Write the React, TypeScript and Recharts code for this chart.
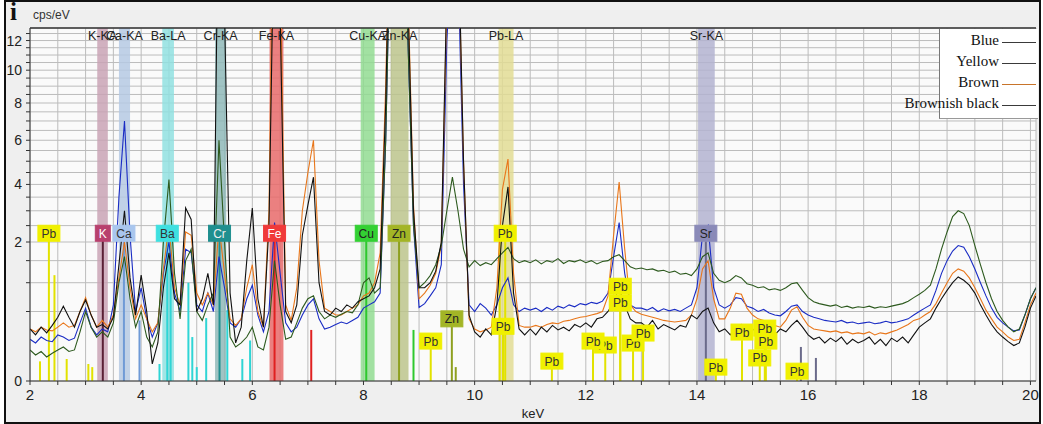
import React from 'react';
import { ComposedChart, Line, Scatter, XAxis, YAxis, CartesianGrid, ReferenceArea, ReferenceLine } from 'recharts';

// Energy grid (keV)
const keV = [
  2.0, 2.1, 2.2, 2.3, 2.4, 2.5, 2.6, 2.7, 2.8, 2.9,
  3.0, 3.1, 3.2, 3.3, 3.4, 3.5, 3.6, 3.7, 3.8, 3.9,
  4.0, 4.1, 4.2, 4.3, 4.4, 4.5, 4.6, 4.7, 4.8, 4.9,
  5.0, 5.1, 5.2, 5.3, 5.4, 5.5, 5.6, 5.7, 5.8, 5.9,
  6.0, 6.1, 6.2, 6.3, 6.4, 6.5, 6.6, 6.7, 6.8, 6.9,
  7.0, 7.1, 7.2, 7.3, 7.4, 7.5, 7.6, 7.7, 7.8, 7.9,
  8.0, 8.1, 8.2, 8.3, 8.4, 8.5, 8.6, 8.7, 8.8, 8.9,
  9.0, 9.1, 9.2, 9.3, 9.4, 9.5, 9.6, 9.7, 9.8, 9.9,
  10.0, 10.1, 10.2, 10.3, 10.4, 10.5, 10.6, 10.7, 10.8, 10.9,
  11.0, 11.1, 11.2, 11.3, 11.4, 11.5, 11.6, 11.7, 11.8, 11.9,
  12.0, 12.1, 12.2, 12.3, 12.4, 12.5, 12.6, 12.7, 12.8, 12.9,
  13.0, 13.1, 13.2, 13.3, 13.4, 13.5, 13.6, 13.7, 13.8, 13.9,
  14.0, 14.1, 14.2, 14.3, 14.4, 14.5, 14.6, 14.7, 14.8, 14.9,
  15.0, 15.1, 15.2, 15.3, 15.4, 15.5, 15.6, 15.7, 15.8, 15.9,
  16.0, 16.1, 16.2, 16.3, 16.4, 16.5, 16.6, 16.7, 16.8, 16.9,
  17.0, 17.1, 17.2, 17.3, 17.4, 17.5, 17.6, 17.7, 17.8, 17.9,
  18.0, 18.1, 18.2, 18.3, 18.4, 18.5, 18.6, 18.7, 18.8, 18.9,
  19.0, 19.1, 19.2, 19.3, 19.4, 19.5, 19.6, 19.7, 19.8, 19.9,
  20.0, 20.1,
];

// cps/eV, series "Blue"
const blueSeries = [
  0.18, 0.15, 0.20, 0.17, 0.16, 0.22, 0.20, 0.17, 0.19, 0.35,
  0.55, 0.30, 0.22, 0.28, 0.25, 0.60, 3.50, 7.00, 2.20, 0.50,
  0.90, 0.40, 0.20, 0.35, 1.20, 2.00, 0.80, 0.50, 1.80, 1.70,
  0.60, 0.50, 0.80, 0.50, 1.60, 0.90, 0.35, 0.30, 0.40, 0.70,
  0.95, 0.45, 0.25, 0.50, 2.60, 1.20, 0.35, 0.25, 0.30, 0.45,
  0.60, 0.70, 0.40, 0.28, 0.30, 0.33, 0.36, 0.34, 0.38, 0.42,
  0.55, 0.60, 0.65, 0.80, 6.00, 25.0, 35.0, 30.0, 12.0, 2.50,
  0.56, 0.62, 0.75, 0.90, 1.40, 12.0, 20.0, 18.0, 4.00, 0.60,
  0.50, 0.62, 0.55, 0.45, 0.60, 0.90, 1.10, 0.60, 0.50, 0.55,
  0.52, 0.55, 0.50, 0.56, 0.52, 0.58, 0.55, 0.60, 0.57, 0.62,
  0.60, 0.64, 0.62, 0.66, 0.80, 1.60, 2.60, 1.20, 0.60, 0.55,
  0.55, 0.52, 0.56, 0.50, 0.54, 0.51, 0.53, 0.50, 0.55, 0.60,
  0.90, 2.20, 2.50, 0.90, 0.60, 0.55, 0.60, 0.72, 0.70, 0.58,
  0.55, 0.50, 0.53, 0.48, 0.45, 0.44, 0.50, 0.58, 0.60, 0.50,
  0.45, 0.42, 0.40, 0.38, 0.37, 0.36, 0.38, 0.35, 0.36, 0.34,
  0.35, 0.36, 0.34, 0.35, 0.37, 0.35, 0.36, 0.38, 0.40, 0.45,
  0.50, 0.55, 0.60, 0.85, 1.20, 1.50, 1.75, 1.90, 1.85, 1.60,
  1.30, 1.00, 0.75, 0.55, 0.42, 0.35, 0.30, 0.26, 0.27, 0.45,
  0.70, 0.90,
];

// series "Yellow"
const yellowSeries = [
  0.10, 0.07, 0.09, 0.06, 0.08, 0.10, 0.12, 0.09, 0.10, 0.25,
  0.50, 0.30, 0.20, 0.25, 0.20, 0.35, 1.00, 1.60, 0.70, 0.30,
  0.50, 0.20, 0.12, 0.25, 2.00, 4.20, 1.20, 0.40, 1.50, 1.80,
  0.50, 0.38, 0.60, 0.80, 6.00, 2.00, 0.20, 0.12, 0.15, 0.20,
  0.30, 0.12, 0.10, 0.30, 1.50, 0.60, 0.18, 0.20, 0.35, 0.55,
  0.70, 0.75, 0.50, 0.40, 0.45, 0.42, 0.46, 0.50, 0.48, 0.60,
  1.00, 1.10, 0.80, 0.90, 6.00, 25.0, 35.0, 30.0, 12.0, 2.50,
  0.90, 1.00, 1.15, 1.40, 1.90, 3.00, 4.30, 3.00, 1.80, 1.35,
  1.50, 1.38, 1.45, 1.40, 1.55, 1.70, 1.85, 1.55, 1.45, 1.50,
  1.45, 1.52, 1.42, 1.50, 1.46, 1.55, 1.43, 1.50, 1.47, 1.52,
  1.45, 1.50, 1.42, 1.48, 1.50, 1.60, 1.65, 1.50, 1.35, 1.30,
  1.32, 1.28, 1.30, 1.25, 1.27, 1.22, 1.25, 1.18, 1.20, 1.15,
  1.30, 1.60, 1.70, 1.20, 1.05, 1.00, 1.05, 1.15, 1.10, 0.98,
  0.95, 0.90, 0.92, 0.86, 0.88, 0.85, 0.90, 0.98, 1.00, 0.85,
  0.72, 0.65, 0.62, 0.60, 0.58, 0.60, 0.56, 0.58, 0.55, 0.57,
  0.56, 0.58, 0.55, 0.57, 0.56, 0.58, 0.60, 0.62, 0.66, 0.72,
  0.78, 0.85, 0.95, 1.30, 1.80, 2.30, 2.80, 3.00, 2.90, 2.50,
  1.90, 1.40, 1.00, 0.70, 0.50, 0.38, 0.30, 0.25, 0.28, 0.45,
  0.70, 0.90,
];

// series "Brown"
const brownSeries = [
  0.28, 0.25, 0.30, 0.27, 0.26, 0.30, 0.35, 0.30, 0.32, 0.50,
  0.72, 0.45, 0.30, 0.38, 0.30, 0.45, 1.10, 2.00, 0.90, 0.40,
  0.60, 0.40, 0.25, 0.35, 1.30, 2.50, 0.90, 0.60, 2.30, 2.20,
  0.80, 0.60, 0.80, 0.60, 2.50, 1.20, 0.40, 0.32, 0.40, 0.90,
  1.40, 0.50, 0.30, 3.00, 35.0, 18.0, 0.60, 0.38, 0.90, 3.00,
  4.50, 6.00, 1.50, 0.55, 0.50, 0.45, 0.45, 0.50, 0.55, 0.60,
  0.75, 0.80, 1.00, 1.70, 9.00, 32.0, 42.0, 36.0, 16.0, 3.20,
  0.70, 0.80, 0.95, 1.20, 1.90, 15.0, 24.0, 21.0, 5.00, 0.40,
  0.28, 0.25, 0.27, 0.30, 0.90, 3.80, 5.10, 1.20, 0.32, 0.30,
  0.30, 0.32, 0.30, 0.33, 0.35, 0.34, 0.37, 0.38, 0.40, 0.42,
  0.43, 0.45, 0.47, 0.50, 0.75, 2.20, 4.10, 1.80, 0.60, 0.50,
  0.46, 0.44, 0.42, 0.40, 0.38, 0.37, 0.36, 0.37, 0.38, 0.45,
  0.70, 1.30, 1.50, 0.70, 0.40, 0.40, 0.55, 0.80, 0.78, 0.55,
  0.45, 0.40, 0.38, 0.35, 0.32, 0.30, 0.38, 0.52, 0.57, 0.42,
  0.32, 0.28, 0.27, 0.26, 0.25, 0.26, 0.24, 0.25, 0.23, 0.24,
  0.23, 0.25, 0.22, 0.24, 0.23, 0.25, 0.27, 0.30, 0.33, 0.38,
  0.40, 0.45, 0.50, 0.62, 0.80, 1.00, 1.20, 1.30, 1.25, 1.10,
  0.90, 0.70, 0.52, 0.40, 0.30, 0.25, 0.20, 0.17, 0.18, 0.35,
  0.60, 0.80,
];

// series "Brownish black"
const blackSeries = [
  0.28, 0.22, 0.30, 0.24, 0.32, 0.42, 0.58, 0.42, 0.30, 0.50,
  0.68, 0.45, 0.30, 0.33, 0.28, 0.42, 1.40, 3.00, 1.10, 0.45,
  1.16, 0.50, 0.03, 0.15, 0.90, 1.70, 0.70, 0.60, 3.10, 2.70,
  0.50, 0.70, 1.20, 0.60, 30.0, 14.0, 0.80, 0.15, 0.30, 1.50,
  3.10, 0.70, 0.30, 2.50, 25.0, 14.0, 0.50, 0.35, 0.60, 2.20,
  3.20, 4.30, 1.00, 0.50, 0.45, 0.55, 0.50, 0.60, 0.55, 0.65,
  0.70, 0.75, 0.90, 1.30, 8.00, 30.0, 40.0, 35.0, 15.0, 3.00,
  0.90, 0.90, 1.00, 1.25, 2.00, 16.0, 25.0, 22.0, 5.00, 0.45,
  0.25, 0.20, 0.28, 0.22, 0.60, 2.50, 3.90, 0.80, 0.28, 0.22,
  0.28, 0.22, 0.30, 0.25, 0.32, 0.27, 0.30, 0.26, 0.33, 0.30,
  0.35, 0.30, 0.40, 0.42, 0.50, 0.65, 0.90, 0.60, 0.40, 0.35,
  0.35, 0.30, 0.38, 0.28, 0.33, 0.30, 0.27, 0.32, 0.30, 0.45,
  0.40, 0.50, 0.55, 0.35, 0.25, 0.28, 0.22, 0.30, 0.33, 0.25,
  0.28, 0.24, 0.30, 0.26, 0.22, 0.28, 0.25, 0.32, 0.38, 0.30,
  0.22, 0.18, 0.20, 0.15, 0.19, 0.16, 0.20, 0.14, 0.18, 0.15,
  0.17, 0.20, 0.14, 0.18, 0.13, 0.19, 0.16, 0.20, 0.15, 0.22,
  0.30, 0.35, 0.40, 0.55, 0.70, 0.85, 1.00, 1.12, 1.05, 0.95,
  0.80, 0.60, 0.45, 0.33, 0.25, 0.20, 0.16, 0.13, 0.15, 0.30,
  0.55, 0.75,
];

const xTicks = [2, 2.5, 3, 3.5, 4, 4.5, 5, 5.5, 6, 6.5, 7, 7.5, 8, 8.5, 9, 9.5, 10, 10.5, 11, 11.5, 12, 12.5, 13, 13.5, 14, 14.5, 15, 15.5, 16, 16.5, 17, 17.5, 18, 18.5, 19, 19.5, 20];
const xLabelTicks = [2, 4, 6, 8, 10, 12, 14, 16, 18, 20];
const yTicks = [0, 0.5, 1, 1.5, 2, 2.5, 3, 3.5, 4, 4.5, 5, 5.5, 6, 6.5, 7, 7.5, 8, 8.5, 9, 9.5, 10, 10.5, 11, 11.5, 12, 12.5];
const yLabelTicks = [0, 2, 4, 6, 8, 10, 12];
const yMax = 12.9;

// Element region-of-interest bands
const bandNames = ['K-KA', 'Ca-KA', 'Ba-LA', 'Cr-KA', 'Fe-KA', 'Cu-KA', 'Zn-KA', 'Pb-LA', 'Sr-KA'];
const bandLo = [3.21, 3.60, 4.38, 5.33, 6.31, 7.95, 8.49, 10.43, 14.02];
const bandHi = [3.40, 3.80, 4.59, 5.53, 6.56, 8.20, 8.81, 10.70, 14.32];
const bandColors = ['#c9a3b5', '#b5c9e3', '#90e0e0', '#8fb8b8', '#e86a6a', '#92dc92', '#bcc48c', '#e2dc94', '#b3b3d0'];

// Element marker styles
const elementNames = ['Pb', 'K', 'Ca', 'Ba', 'Cr', 'Fe', 'Cu', 'Zn', 'Sr'];
const elementBox = ['#f0f000', '#b8406e', '#a9c6ee', '#3ee0e0', '#1f8f8f', '#f03a3a', '#33d133', '#a3b526', '#8a8ab8'];
const elementText = ['#333', '#fff', '#333', '#333', '#eee', '#fff', '#222', '#222', '#222'];
const elementLine = ['#e2e200', '#5a2035', '#6f9ad6', '#2fd5d5', '#1f8f8f', '#e02020', '#2ec82e', '#8ea020', '#6a6a8a'];

// Marker labels (element, energy, height in cps/eV)
const labelEl = ['Pb', 'K', 'Ca', 'Ba', 'Cr', 'Fe', 'Cu', 'Zn', 'Pb', 'Sr',
  'Zn', 'Pb', 'Pb', 'Pb', 'Pb', 'Pb', 'Pb', 'Pb', 'Pb', 'Pb', 'Pb', 'Pb', 'Pb', 'Pb', 'Pb', 'Pb'];
const labelKeV = [2.34, 3.31, 3.69, 4.47, 5.41, 6.40, 8.05, 8.64, 10.55, 14.16,
  9.59, 9.21, 10.51, 11.39, 12.35, 12.13, 12.62, 12.62, 12.85, 13.03, 14.34, 14.81, 15.13, 15.24, 15.22, 15.80];
const labelLevel = [2.26, 2.26, 2.26, 2.26, 2.26, 2.26, 2.26, 2.26, 2.26, 2.26,
  0.40, 0.165, 0.31, 0.041, 0.134, 0.165, 0.93, 0.63, 0.149, 0.238, 0.02, 0.248, 0.055, 0.165, 0.29, 0.01];

// Extra emission lines without labels
const lineEl = ['Pb', 'Pb', 'Pb', 'Pb', 'Pb', 'Ca', 'Ba', 'Ba', 'Ba', 'Ba', 'Ba', 'Ba', 'Ba', 'Ba', 'Ba', 'Fe', 'Cu', 'Zn', 'Pb', 'Sr', 'Sr'];
const lineKeV = [2.18, 2.44, 2.66, 3.05, 3.12, 3.97, 4.33, 4.53, 4.85, 4.92, 5.00, 5.17, 5.55, 5.82, 5.96, 7.06, 8.90, 9.66, 10.45, 15.87, 16.14];
const lineTop = [0.04, 1.16, 0.05, 0.03, 0.02, 0.38, 0.03, 2.26, 1.0, 0.2, 0.02, 0.41, 0.52, 0.05, 0.17, 0.27, 0.27, 0.02, 2.26, 0.12, 0.055];

const legendNames = ['Blue', 'Yellow', 'Brown', 'Brownish black'];
const legendColors = ['#3a3a3a', '#3a3a3a', '#c8742a', '#3a3a3a'];

const seriesKeys = ['blue', 'brown', 'yellow', 'black'];
const seriesColors = ['#1a2cc4', '#e8761a', '#2d5a1e', '#111111'];

const chartData = keV.map((k, i) => ({
  keV: k,
  blue: blueSeries[i],
  yellow: yellowSeries[i],
  brown: brownSeries[i],
  black: blackSeries[i],
}));

const labelData = labelKeV.map((k, i) => ({ keV: k, level: labelLevel[i], el: labelEl[i] }));

const elIndex = (el: string) => elementNames.indexOf(el);

const XTick = (props: any) => {
  const { x, y, payload } = props;
  if (!xLabelTicks.includes(payload.value)) return <g />;
  return (
    <text x={x} y={y + 13} textAnchor="middle" fontSize={15} fill="#222">{payload.value}</text>
  );
};

const YTick = (props: any) => {
  const { x, y, payload } = props;
  if (!yLabelTicks.includes(payload.value)) return <g />;
  return (
    <text x={x - 2} y={y + 5} textAnchor="end" fontSize={14} fill="#222">{payload.value}</text>
  );
};

const LabelShape = (props: any) => {
  const { cx, cy, payload } = props;
  const i = elIndex(payload.el);
  const w = 8 + payload.el.length * 7;
  return (
    <g>
      <rect x={cx - w / 2} y={cy - 8} width={w} height={16} fill={elementBox[i]} stroke={elementBox[i]} />
      <text x={cx} y={cy + 4.5} textAnchor="middle" fontSize={12} fill={elementText[i]}>{payload.el}</text>
    </g>
  );
};

export default function App() {
  return (
    <div style={{ position: 'absolute', left: 0, top: 0, width: 1043, height: 424, background: '#fff', fontFamily: '"Liberation Sans", Arial, sans-serif' }}>
      <div style={{ position: 'absolute', left: 4, top: 0, width: 1037, height: 424, border: '2px solid #111', boxSizing: 'border-box', background: '#efefef' }} />
      <div style={{ position: 'absolute', left: 10, top: -2, fontFamily: '"Liberation Serif", serif', fontWeight: 'bold', fontSize: 25, color: '#111' }}>i</div>
      <div style={{ position: 'absolute', left: 33, top: 8, fontSize: 12, color: '#333' }}>cps/eV</div>
      <div style={{ position: 'absolute', left: 0, top: 0 }}>
        <ComposedChart width={1043} height={424} data={chartData} margin={{ top: 28, right: 7, left: 0, bottom: 0 }}>
          <CartesianGrid stroke="#bcbcbc" fill="#fafafa" />
          <XAxis
            dataKey="keV"
            type="number"
            domain={[2, 20.1]}
            ticks={xTicks}
            interval={0}
            allowDataOverflow
            height={43}
            tickSize={4}
            tickMargin={2}
            tick={XTick}
            stroke="#333"
            label={{ value: 'keV', position: 'insideBottom', offset: 6, fontSize: 13, fill: '#222' }}
          />
          <YAxis
            type="number"
            scale="sqrt"
            domain={[0, yMax]}
            ticks={yTicks}
            interval={0}
            allowDataOverflow
            width={30}
            tickSize={4}
            tickMargin={2}
            tick={YTick}
            stroke="#333"
          />
          {bandNames.map((name, i) => (
            <ReferenceArea
              key={name}
              x1={bandLo[i]}
              x2={bandHi[i]}
              fill={bandColors[i]}
              fillOpacity={0.85}
              stroke="none"
              label={{ value: name, position: 'insideTop', offset: 3, fontSize: 12.5, fill: '#222' }}
            />
          ))}
          <ReferenceLine y={yMax} stroke="#333" strokeWidth={1.5} />
          {lineKeV.map((k, i) => (
            <ReferenceLine
              key={'l' + i}
              segment={[{ x: k, y: 0 }, { x: k, y: lineTop[i] }]}
              stroke={elementLine[elIndex(lineEl[i])]}
              strokeWidth={2}
            />
          ))}
          {labelKeV.map((k, i) => (
            <ReferenceLine
              key={'m' + i}
              segment={[{ x: k, y: 0 }, { x: k, y: labelLevel[i] }]}
              stroke={elementLine[elIndex(labelEl[i])]}
              strokeWidth={2}
            />
          ))}
          {seriesKeys.map((key, i) => (
            <Line
              key={key}
              type="linear"
              dataKey={key}
              stroke={seriesColors[i]}
              strokeWidth={1.1}
              dot={false}
              activeDot={false}
              isAnimationActive={false}
            />
          ))}
          <Scatter data={labelData} dataKey="level" shape={LabelShape} isAnimationActive={false} />
        </ComposedChart>
      </div>
      <div style={{ position: 'absolute', left: 939, top: 29, width: 98, height: 89, background: '#fff', borderLeft: '1px solid #777', borderBottom: '1px solid #999' }} />
      {legendNames.map((name, i) => (
        <React.Fragment key={name}>
          <div style={{ position: 'absolute', right: 1043 - 999, top: 32 + i * 21, fontFamily: '"Liberation Serif", serif', fontSize: 15, color: '#111', whiteSpace: 'nowrap' }}>{name}</div>
          <div style={{ position: 'absolute', left: 1002, top: 42 + i * 21, width: 34, height: 1, background: legendColors[i] }} />
        </React.Fragment>
      ))}
    </div>
  );
}
